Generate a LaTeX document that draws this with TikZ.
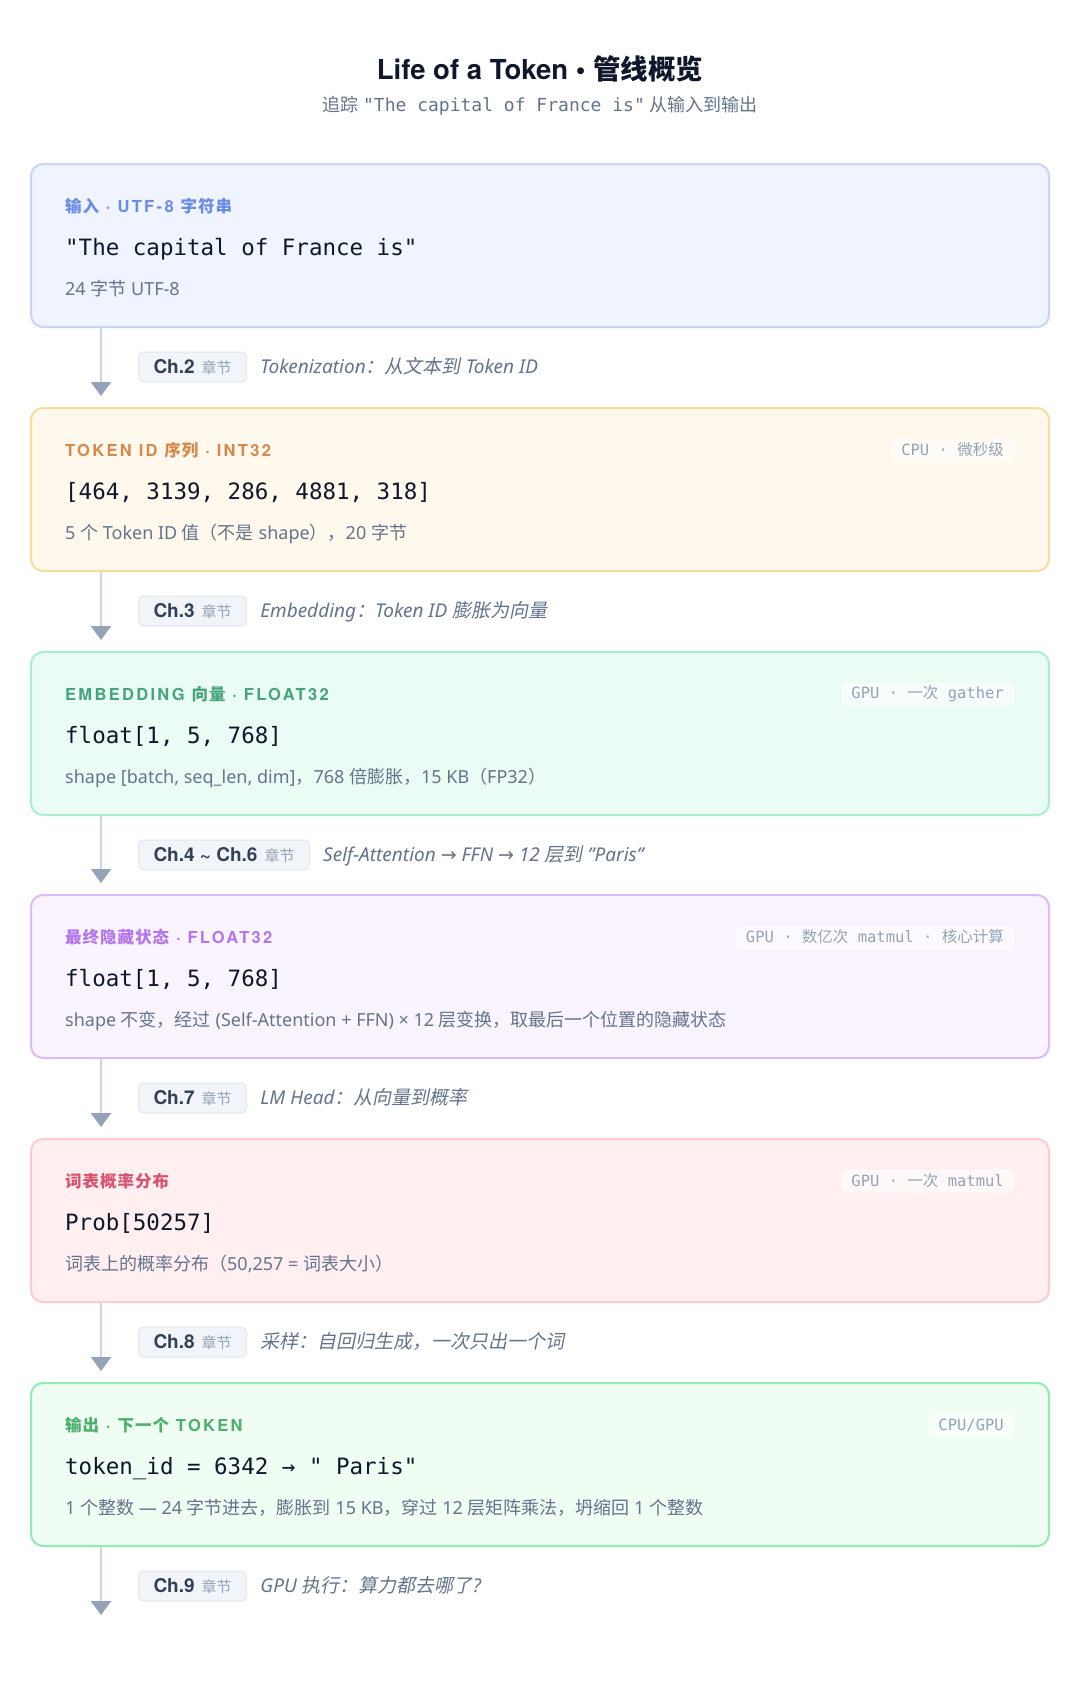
\documentclass[tikz,border=0pt]{standalone}
\usepackage{fontspec}
\setmainfont{Noto Sans}
\setmonofont{DejaVu Sans Mono}
\newfontfamily\heros{TeX Gyre Heros}
\newfontfamily\cjk{Noto Sans CJK SC}
\newfontfamily\cjki{Noto Sans CJK SC}[FakeSlant=0.2]
\newfontfamily\cjkl{Noto Sans CJK SC}[LetterSpace=6]
\newfontfamily\lblfont{TeX Gyre Heros}[LetterSpace=14]
\newfontfamily\arr{DejaVu Sans}
\usetikzlibrary{arrows.meta}
\newcommand\zh[1]{{\cjk #1}}
\newcommand\zhi[1]{{\cjki #1}}
\newcommand\zl[1]{{\cjkl #1}}
\newcommand\rarr{{\arr →}}
\definecolor{ink}{HTML}{0F172A}
\definecolor{slate}{HTML}{64748B}
\definecolor{muted}{HTML}{94A3B8}
\definecolor{chipfill}{HTML}{F1F5F9}
\definecolor{chipline}{HTML}{E2E8F0}
\definecolor{chipink}{HTML}{334155}
\definecolor{linec}{HTML}{CBD5E1}
\definecolor{arrowc}{HTML}{94A3B8}
\definecolor{fillA}{HTML}{EFF4FF}\definecolor{lineA}{HTML}{C7D6F5}\definecolor{lblA}{HTML}{6B8CE6}
\definecolor{fillB}{HTML}{FFF8EC}\definecolor{lineB}{HTML}{F8DC9B}\definecolor{lblB}{HTML}{D58A4C}
\definecolor{fillC}{HTML}{EBFCF4}\definecolor{lineC}{HTML}{A8F0CD}\definecolor{lblC}{HTML}{45A57E}
\definecolor{fillD}{HTML}{FAF4FF}\definecolor{lineD}{HTML}{DDBAFB}\definecolor{lblD}{HTML}{B374EC}
\definecolor{fillE}{HTML}{FFEFF1}\definecolor{lineE}{HTML}{FDCBD1}\definecolor{lblE}{HTML}{D9536F}
\definecolor{fillF}{HTML}{EFFDF3}\definecolor{lineF}{HTML}{90EDB0}\definecolor{lblF}{HTML}{4DAF6C}
\newcommand\chiptext[1]{{\heros\bfseries\fontsize{19}{20}\selectfont\color{chipink}#1}\hspace{7pt}{\cjk\fontsize{15}{17}\selectfont\color{muted}章节}}
\begin{document}
\begin{tikzpicture}[x=1pt,y=-1pt,
  box/.style={draw, line width=2pt, rounded corners=12pt, minimum width=1018pt, minimum height=163pt, inner sep=0pt},
  lbl/.style={anchor=base west, inner sep=0pt, font=\lblfont\bfseries\fontsize{16.5}{18}\selectfont},
  mainv/.style={anchor=base west, inner sep=0pt, font=\ttfamily\fontsize{22.5}{26}\selectfont, text=ink},
  subt/.style={anchor=base west, inner sep=0pt, font=\fontsize{18}{20}\selectfont, text=slate},
  badge/.style={anchor=east, fill=white, fill opacity=0.6, text opacity=1, rounded corners=4pt, inner xsep=10pt, inner ysep=0pt, minimum height=23pt, font=\ttfamily\fontsize{15.5}{18}\selectfont, text=muted},
  chip/.style={anchor=west, fill=chipfill, draw=chipline, line width=1pt, rounded corners=5pt, minimum height=30pt, inner xsep=15pt, inner ysep=0pt},
  note/.style={anchor=base west, inner sep=0pt, font=\itshape\fontsize{19}{21}\selectfont, text=slate},
  flow/.style={draw=linec, line width=2.5pt, -{Triangle[width=20pt,length=14pt,color=arrowc]}}
]
\useasboundingbox (0,0) rectangle (1080,1698);
\fill[white] (0,0) rectangle (1080,1698);
\coordinate (ax) at (101,0);

% title
\node[anchor=base, inner sep=0pt, font=\heros\bfseries\fontsize{27.5}{30}\selectfont, text=ink] (title) at (540,79) {Life of a Token • \zh{管线概览}};
\node[anchor=base, inner sep=0pt, font=\fontsize{18}{20}\selectfont, text=slate] (subtitle) at (540,111.5) {\zh{追踪} {\ttfamily "The capital of France is"} \zh{从输入到输出}};

% boxes
\node[box, fill=fillA, draw=lineA] (b1) at (540,245.5) {};
\node[box, fill=fillB, draw=lineB] (b2) at (540,489.5) {};
\node[box, fill=fillC, draw=lineC] (b3) at (540,733.5) {};
\node[box, fill=fillD, draw=lineD] (b4) at (540,976.5) {};
\node[box, fill=fillE, draw=lineE] (b5) at (540,1220.5) {};
\node[box, fill=fillF, draw=lineF] (b6) at (540,1464.5) {};

% box 1
\node[lbl, text=lblA] (l1) at (65,212) {\zl{输入} · UTF-8 \zl{字符串}};
\node[mainv] (m1) at (65,255) {"The capital of France is"};
\node[subt] (s1) at (65,295) {24 \zh{字节} UTF-8};

% box 2
\node[lbl, text=lblB] (l2) at (65,456) {TOKEN ID \zl{序列} · INT32};
\node[mainv] (m2) at (65,499) {[464, 3139, 286, 4881, 318]};
\node[subt] (s2) at (65,539) {5 \zh{个} Token ID \zh{值（不是} shape\zh{），}20 \zh{字节}};
\node[badge] (g2) at (1014,450) {CPU · \zh{微秒级}};

% box 3
\node[lbl, text=lblC] (l3) at (65,700) {EMBEDDING \zl{向量} · FLOAT32};
\node[mainv] (m3) at (65,743) {float[1, 5, 768]};
\node[subt] (s3) at (65,783) {shape [batch, seq\_len, dim]\zh{，}768 \zh{倍膨胀，}15 KB\zh{（}FP32\zh{）}};
\node[badge] (g3) at (1014,694) {GPU · \zh{一次} gather};

% box 4
\node[lbl, text=lblD] (l4) at (65,943) {\zl{最终隐藏状态} · FLOAT32};
\node[mainv] (m4) at (65,986) {float[1, 5, 768]};
\node[subt] (s4) at (65,1026) {shape \zh{不变，经过} (Self-Attention + FFN) × 12 \zh{层变换，取最后一个位置的隐藏状态}};
\node[badge] (g4) at (1014,937) {GPU · \zh{数亿次} matmul · \zh{核心计算}};

% box 5
\node[lbl, text=lblE] (l5) at (65,1187) {\zl{词表概率分布}};
\node[mainv] (m5) at (65,1230) {Prob[50257]};
\node[subt] (s5) at (65,1270) {\zh{词表上的概率分布（}50,257 = \zh{词表大小）}};
\node[badge] (g5) at (1014,1181) {GPU · \zh{一次} matmul};

% box 6
\node[lbl, text=lblF] (l6) at (65,1431) {\zl{输出} · \zl{下一个} TOKEN};
\node[mainv] (m6) at (65,1474) {token\_id = 6342 → " Paris"};
\node[subt] (s6) at (65,1514) {1 \zh{个整数} — 24 \zh{字节进去，膨胀到} 15 KB\zh{，穿过} 12 \zh{层矩阵乘法，坍缩回} 1 \zh{个整数}};
\node[badge] (g6) at (1014,1425) {CPU/GPU};

% connectors
\coordinate (end) at (101,1615);
\draw[flow, shorten >=11pt] (b1.south -| ax) -- (b2.north -| ax);
\draw[flow, shorten >=11pt] (b2.south -| ax) -- (b3.north -| ax);
\draw[flow, shorten >=11pt] (b3.south -| ax) -- (b4.north -| ax);
\draw[flow, shorten >=11pt] (b4.south -| ax) -- (b5.north -| ax);
\draw[flow, shorten >=11pt] (b5.south -| ax) -- (b6.north -| ax);
\draw[flow] (b6.south -| ax) -- (end);

% chips and notes
\node[chip] (c1) at (138,367) {\chiptext{Ch.2}};
\node[note] (n1) at ([xshift=13pt]c1.base east) {Tokenization\zhi{：从文本到} Token ID};
\node[chip] (c2) at (138,611) {\chiptext{Ch.3}};
\node[note] (n2) at ([xshift=13pt]c2.base east) {Embedding\zhi{：}Token ID \zhi{膨胀为向量}};
\node[chip] (c3) at (138,855) {\chiptext{Ch.4 \textasciitilde{} Ch.6}};
\node[note] (n3) at ([xshift=13pt]c3.base east) {Self-Attention \rarr{} FFN \rarr{} 12 \zhi{层到} "Paris"};
\node[chip] (c4) at (138,1098) {\chiptext{Ch.7}};
\node[note] (n4) at ([xshift=13pt]c4.base east) {LM Head\zhi{：从向量到概率}};
\node[chip] (c5) at (138,1342) {\chiptext{Ch.8}};
\node[note] (n5) at ([xshift=13pt]c5.base east) {\zhi{采样：自回归生成，一次只出一个词}};
\node[chip] (c6) at (138,1586) {\chiptext{Ch.9}};
\node[note] (n6) at ([xshift=13pt]c6.base east) {GPU \zhi{执行：算力都去哪了}?};
\end{tikzpicture}
\end{document}
